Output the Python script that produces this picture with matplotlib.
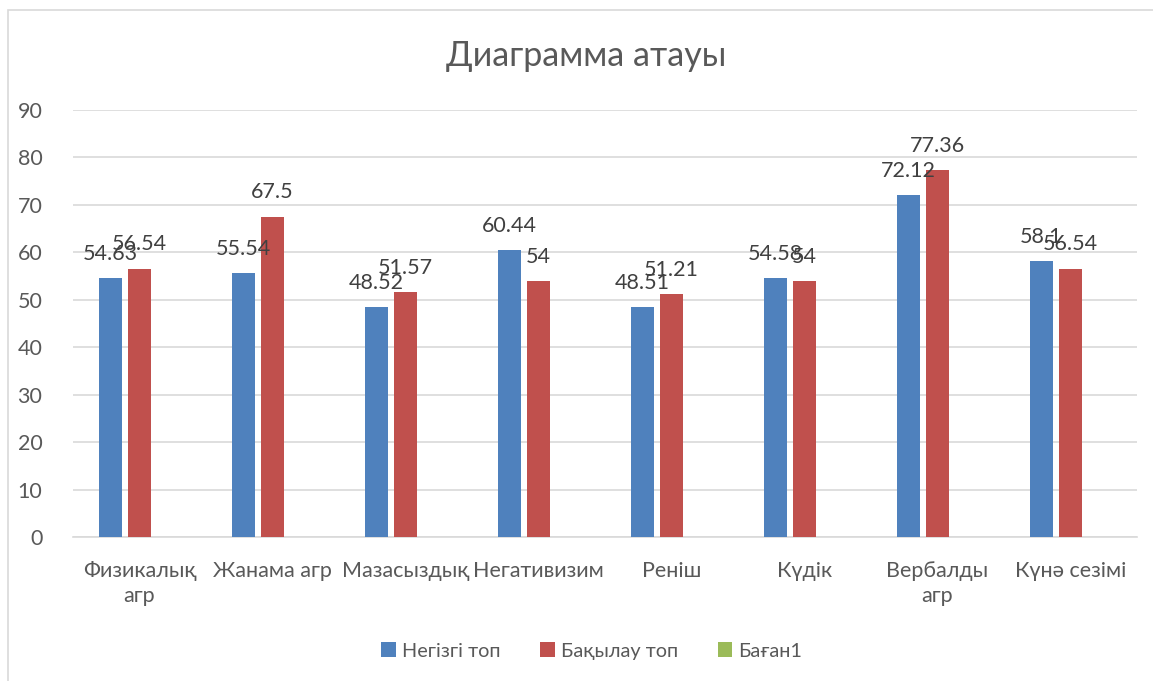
import numpy as np
import matplotlib.pyplot as plt
from matplotlib.patches import Rectangle

plt.rcParams['font.family'] = ['Lato', 'DejaVu Sans']

categories = ['Физикалық\nагр', 'Жанама агр', 'Мазасыздық', 'Негативизим',
              'Реніш', 'Күдік', 'Вербалды\nагр', 'Күнә сезімі']
negizgi = [54.63, 55.54, 48.52, 60.44, 48.51, 54.58, 72.12, 58.1]
bakylau = [56.54, 67.5, 51.57, 54, 51.21, 54, 77.36, 56.54]
bagan1 = [np.nan] * len(categories)

series = [('Негізгі топ', negizgi, '#4f81bd'),
          ('Бақылау топ', bakylau, '#c0504d'),
          ('Баған1', bagan1, '#9bbb59')]

text_col = '#595959'
grid_col = '#d9d9d9'

fig = plt.figure(figsize=(11.53, 6.81), dpi=100)
ax = fig.add_axes([0.0633, 0.2115, 0.9227, 0.627])

# chart frame
fig.patches.append(Rectangle((8 / 1153, -0.1), 1.2, 1 - 10 / 681 + 0.1,
                             transform=fig.transFigure, fill=False,
                             edgecolor=grid_col, linewidth=1.2))

x = np.arange(len(categories))
step = 0.22
width = 0.172
for k, (name, vals, col) in enumerate(series):
    pos = x + (k - 1) * step
    bars = ax.bar(pos, vals, width=width, color=col, label=name, zorder=3)
    if k < 2:
        for p, v in zip(pos, vals):
            ax.text(p, v + 3.0, f'{v:g}', ha='center', va='bottom',
                    fontsize=15.5, color='#404040', zorder=4)

ax.set_xlim(-0.5, len(categories) - 0.5)
ax.set_ylim(0, 90)
ax.set_yticks(range(0, 91, 10))
ax.yaxis.grid(True, color=grid_col, linewidth=1.2, zorder=0)
ax.set_axisbelow(True)
for s in ['left', 'right', 'top']:
    ax.spines[s].set_visible(False)
ax.spines['bottom'].set_color(grid_col)
ax.spines['bottom'].set_linewidth(1.2)
ax.tick_params(axis='both', length=0, labelsize=15.5, labelcolor=text_col)
ax.tick_params(axis='y', pad=22)
ax.tick_params(axis='x', pad=17)
ax.set_xticks(x)
ax.set_xticklabels(categories, linespacing=1.35)

fig.text(0.508, 0.918, 'Диаграмма атауы', ha='center', va='center',
         fontsize=24.5, color=text_col)

leg = fig.legend(loc='center', bbox_to_anchor=(0.513, 0.044), ncol=3,
                 frameon=False, fontsize=14.3, handlelength=0.75,
                 handleheight=0.75, handletextpad=0.3, columnspacing=2.0)
for t in leg.get_texts():
    t.set_color(text_col)

fig.savefig('out.png', dpi=100, facecolor='white')
